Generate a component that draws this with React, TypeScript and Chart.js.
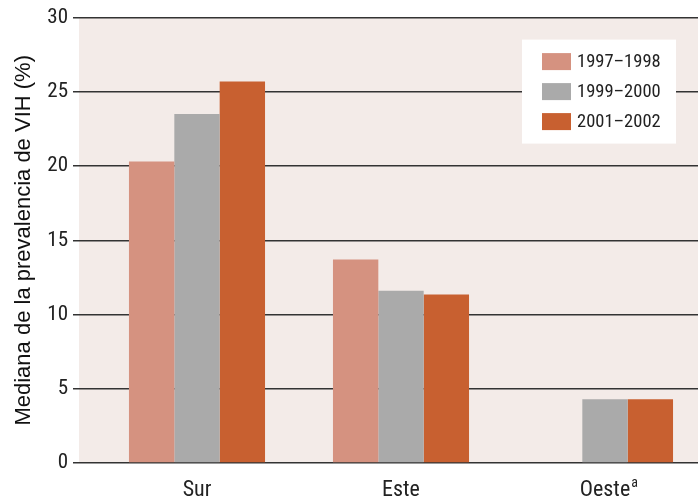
import React, { useEffect, useRef } from "react";
import { Chart, registerables } from "chart.js";

Chart.register(...registerables);

const categories = ["Sur", "Este", "Oeste"];
const footnoteMarks = ["", "", "a"];
const seriesLabels = ["1997–1998", "1999–2000", "2001–2002"];
const values1997 = [20.3, 13.7, null];
const values1999 = [23.5, 11.6, 4.3];
const values2001 = [25.7, 11.35, 4.3];
const colors = ["#d59280", "#aaaaaa", "#c86030"];
const yTicks = [0, 5, 10, 15, 20, 25, 30];

const COND = "'Roboto Condensed', 'DejaVu Sans Condensed', sans-serif";
const XFONT = 22;

// the category band of the original extends a little past the right canvas edge
const extendXPlugin = {
  id: "extendX",
  afterLayout(chart: any) {
    const s = chart.scales.x;
    s.right += 9;
    s.width += 9;
    s.configure();
  },
};

const bgPlugin = {
  id: "bgPlugin",
  beforeDraw(chart: any) {
    const { ctx, chartArea } = chart;
    ctx.save();
    ctx.fillStyle = "#f3ebe8";
    ctx.fillRect(chartArea.left - 16, chartArea.top, chartArea.right - chartArea.left + 16, chartArea.bottom - chartArea.top);
    ctx.restore();
  },
};

const legendPlugin = {
  id: "legendPlugin",
  afterDraw(chart: any) {
    const { ctx, chartArea } = chart;
    const boxX = chart.width - 176;
    const boxY = chartArea.top + 22;
    ctx.save();
    ctx.fillStyle = "#ffffff";
    ctx.fillRect(boxX, boxY, 154, 104);
    ctx.font = `18.5px ${COND}`;
    ctx.textBaseline = "middle";
    ctx.textAlign = "left";
    chart.data.datasets.forEach((ds: any, i: number) => {
      const cy = boxY + 22 + i * 30;
      ctx.fillStyle = ds.backgroundColor;
      ctx.fillRect(boxX + 20, cy - 8.5, 29, 17);
      ctx.fillStyle = "#222222";
      ctx.fillText(ds.label, boxX + 55, cy + 1);
    });
    ctx.restore();
  },
};

const footnotePlugin = {
  id: "footnotePlugin",
  afterDraw(chart: any) {
    const { ctx } = chart;
    const xs = chart.scales.x;
    ctx.save();
    footnoteMarks.forEach((m, i) => {
      if (!m) return;
      ctx.font = `${XFONT}px ${COND}`;
      const w = ctx.measureText(categories[i]).width;
      const x = xs.getPixelForValue(i) + w / 2 + 1;
      ctx.font = `14px ${COND}`;
      ctx.fillStyle = "#222222";
      ctx.textAlign = "left";
      ctx.textBaseline = "top";
      ctx.fillText(m, x, chart.chartArea.bottom + 13);
    });
    ctx.restore();
  },
};

export default function App() {
  const ref = useRef<HTMLCanvasElement>(null);
  useEffect(() => {
    if (!ref.current) return;
    const chart = new Chart(ref.current, {
      type: "bar",
      data: {
        labels: categories,
        datasets: [
          { label: seriesLabels[0], data: values1997, backgroundColor: colors[0] },
          { label: seriesLabels[1], data: values1999, backgroundColor: colors[1] },
          { label: seriesLabels[2], data: values2001, backgroundColor: colors[2] },
        ] as any,
      },
      options: {
        animation: false,
        responsive: false,
        maintainAspectRatio: false,
        layout: { padding: { top: 15, right: 0, left: 0, bottom: 0 } },
        datasets: { bar: { categoryPercentage: 0.667, barPercentage: 1 } } as any,
        plugins: { legend: { display: false }, tooltip: { enabled: false } },
        scales: {
          x: {
            grid: { display: false },
            border: { display: false },
            ticks: {
              color: "#222222",
              font: { family: COND, size: XFONT },
              padding: 6,
            },
            afterFit: (s: any) => { s.height = 38; },
          },
          y: {
            min: 0,
            max: 30,
            afterBuildTicks: (s: any) => { s.ticks = yTicks.map((v) => ({ value: v })); },
            grid: { color: "#333333", lineWidth: 1.5, tickLength: 22, drawTicks: true },
            border: { display: false },
            ticks: {
              color: "#222222",
              font: { family: COND, size: 21 },
              padding: 5,
            },
            title: {
              display: true,
              text: "Mediana de la prevalencia de VIH (%)",
              color: "#111111",
              font: { family: "'Liberation Sans', Arial, sans-serif", size: 22 },
              padding: { top: 11, bottom: 0 },
            },
            afterFit: (s: any) => { s.width = 95; },
          },
        },
      },
      plugins: [extendXPlugin, bgPlugin, legendPlugin, footnotePlugin],
    });
    return () => chart.destroy();
  }, []);
  return (
    <div style={{ position: "fixed", left: 0, top: 0, width: 698, height: 501, background: "#ffffff" }}>
      <canvas ref={ref} width={698} height={501} style={{ width: 698, height: 501, display: "block" }} />
    </div>
  );
}
